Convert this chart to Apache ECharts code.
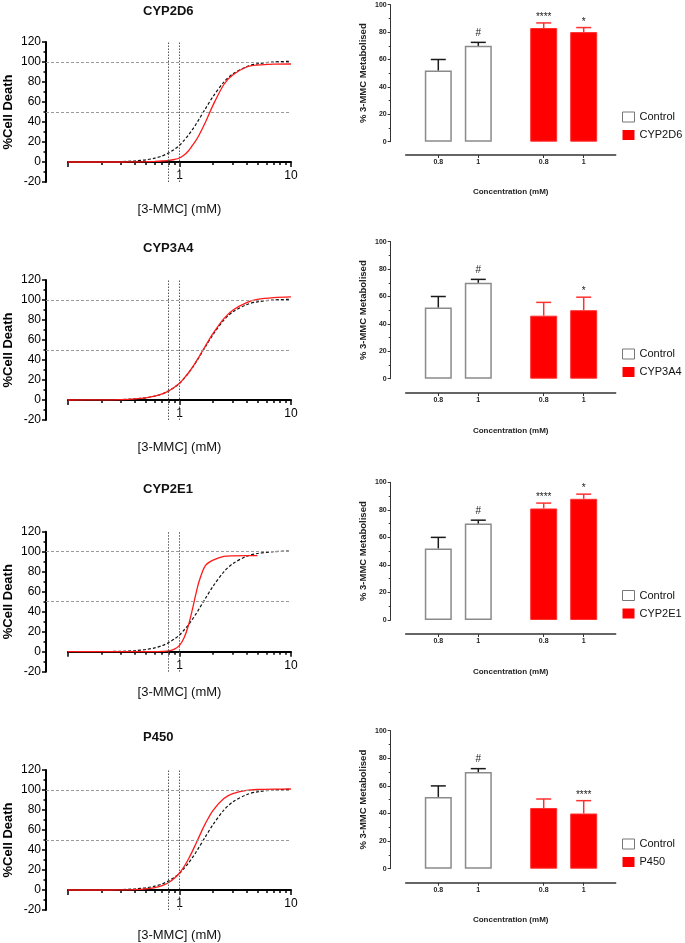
<!DOCTYPE html>
<html><head><meta charset="utf-8">
<script src="https://cdn.jsdelivr.net/npm/echarts@6/dist/echarts.min.js"></script>
<style>html,body{margin:0;padding:0;background:#fff}#c{width:685px;height:943px}</style>
</head><body><div id="c"></div>
<script>
// ---------------- DATA ----------------
const panelNames = ['CYP2D6', 'CYP3A4', 'CYP2E1', 'P450'];
const doseX = [0.1,0.2,0.3,0.4,0.5,0.6,0.7,0.8,0.9,1,1.1,1.2,1.3,1.4,1.5,1.7,2,2.5,3,4,5,7,10];
const controlCurve = [0,0.1,0.4,1.1,2.2,3.8,6.1,9.1,12.7,16.7,21.7,26.8,32.1,37.5,42.9,52.9,65.5,79.9,88.0,95.4,98.2,100.0,100.7];
const curveCYP2D6 = [0,0,0,0.1,0.3,0.6,1.0,1.5,2.5,4,7,11,16.3,21.3,27,39.2,56.9,77.5,87,95,96.9,97.8,98];
const curveCYP3A4 = [0,0.1,0.4,1.1,2.2,3.8,6.1,9.1,12.7,16.7,21.8,27,32.4,37.9,43.5,53.7,66.6,81.4,89.8,97.4,100.6,102.4,103.1];
const curveCYP2E1 = [0,0,0,0,0,0,0.3,0.9,2.6,6.4,13.9,25.9,41.5,57.3,70.4,85.9,91.5,95.4,95.9,96,96,null,null];
const curveP450 = [0,0,0.1,0.4,1.1,2.4,4.4,7.5,11.7,17,23.5,30.8,38.4,46.1,53.4,66.1,79.7,91.5,96.3,99.6,100.5,100.9,101];
const enzymeCurves = [curveCYP2D6, curveCYP3A4, curveCYP2E1, curveP450];
const refLevels = [50, 100];
const refDoses = [0.8, 1];
const xMinorTicks = [0.2,0.3,0.4,0.5,0.6,0.7,0.8,0.9,2,3,4,5,6,7,8,9];
const xMajorTicks = [0.1, 1, 10];
const xTickLabels = [1, 10];

const barCategories = ['0.8', '1'];
const controlMean = [52, 70];
const controlErr = [8, 2.5];
const controlMarks = ['', '#'];
const meanCYP2D6 = [83, 80];   const errCYP2D6 = [3.7, 3.3];  const marksCYP2D6 = ['****', '*'];
const meanCYP3A4 = [46, 50];   const errCYP3A4 = [9.7, 9.5];  const marksCYP3A4 = ['', '*'];
const meanCYP2E1 = [81, 88];   const errCYP2E1 = [3.9, 3.4];  const marksCYP2E1 = ['****', '*'];
const meanP450 = [44, 40];     const errP450 = [6.5, 9.3];    const marksP450 = ['', '****'];
const enzymeMeans = [meanCYP2D6, meanCYP3A4, meanCYP2E1, meanP450];
const enzymeErrs = [errCYP2D6, errCYP3A4, errCYP2E1, errP450];
const enzymeMarks = [marksCYP2D6, marksCYP3A4, marksCYP2E1, marksP450];

// ---------------- LAYOUT ----------------
const leftLayout = [
  {top: 42, titleTop: 4.5, nameGap: 40.5},
  {top: 280, titleTop: 241.5, nameGap: 40.5},
  {top: 531.7, titleTop: 482.5, nameGap: 34.5},
  {top: 770, titleTop: 731, nameGap: 38.5}
];
const rightLayout = [
  {top: 4.7, h: 137, off: 13.3, nameGap: 33, legTop: 111},
  {top: 241.7, h: 137, off: 14.3, nameGap: 33.5, legTop: 348},
  {top: 482.3, h: 137.7, off: 14, nameGap: 33.5, legTop: 589.5},
  {top: 730.7, h: 138, off: 14, nameGap: 33, legTop: 838}
];
const FONT = '"Liberation Sans", Arial, Helvetica, sans-serif';

const grid = [], xAxis = [], yAxis = [], series = [], title = [], legend = [];
function addGrid(g) { g.outerBoundsMode = 'none'; g.containLabel = false; grid.push(g); return grid.length - 1; }

function errRenderer(color, marks) {
  return function (params, api) {
    const x = api.value(0), v = api.value(1), e = api.value(2);
    const p0 = api.coord([x, v]);
    const p1 = api.coord([x, v + e]);
    const half = 7.5;
    const children = [
      {type: 'line', shape: {x1: p0[0], y1: p0[1], x2: p1[0], y2: p1[1]}, style: {stroke: color, lineWidth: 1.5}},
      {type: 'line', shape: {x1: p1[0] - half, y1: p1[1], x2: p1[0] + half, y2: p1[1]}, style: {stroke: color, lineWidth: 1.5}}
    ];
    const m = marks[params.dataIndex];
    if (m) {
      const star = m.indexOf('*') >= 0;
      children.push({type: 'text', x: p1[0], y: p1[1] + (star ? -0.5 : -4),
        style: {text: m, fill: '#222', font: '10px ' + FONT, align: 'center', verticalAlign: 'bottom'}});
    }
    return {type: 'group', children: children};
  };
}

for (let i = 0; i < 4; i++) {
  const L = leftLayout[i];
  const R = rightLayout[i];
  // ---- left: grid A (wide, visible y axis + horizontal reference lines)
  const gA = addGrid({left: 46, width: 245, top: L.top, height: 140});
  xAxis.push({gridIndex: gA, type: 'value', min: 0, max: 1, show: false});
  yAxis.push({gridIndex: gA, type: 'value', min: -20, max: 120, interval: 20,
    axisLine: {show: true, onZero: false, lineStyle: {color: '#000', width: 2}},
    axisTick: {show: true, length: 4, lineStyle: {color: '#000', width: 1.5}},
    minorTick: {show: true, splitNumber: 2, length: 2.5, lineStyle: {color: '#000', width: 1.5}},
    axisLabel: {fontSize: 12, color: '#000', margin: 5, fontFamily: FONT},
    splitLine: {show: false},
    name: '%Cell Death', nameLocation: 'middle', nameGap: 31,
    nameTextStyle: {fontSize: 13, fontWeight: 'bold', color: '#000', fontFamily: FONT}});
  series.push({type: 'line', xAxisIndex: xAxis.length - 1, yAxisIndex: yAxis.length - 1, data: [],
    markLine: {silent: true, symbol: 'none', label: {show: false},
      lineStyle: {type: [3, 2], color: '#9a9a9a', width: 1},
      data: refLevels.map(v => ({yAxis: v}))}});
  // ---- left: grid D (full height, vertical dotted reference lines)
  const gD = addGrid({left: 68, width: 223, top: L.top, height: 140});
  xAxis.push({gridIndex: gD, type: 'log', logBase: 10, min: 0.1, max: 10, show: false});
  yAxis.push({gridIndex: gD, type: 'value', min: -20, max: 120, show: false});
  series.push({type: 'line', xAxisIndex: xAxis.length - 1, yAxisIndex: yAxis.length - 1, data: [],
    markLine: {silent: true, symbol: 'none', label: {show: false},
      lineStyle: {type: [1.5, 1.5], color: '#555', width: 1},
      data: refDoses.map(v => ({xAxis: v}))}});
  // ---- left: grid B (0..120, log axis with curves; bottom edge is y = 0)
  const gB = addGrid({left: 68, width: 223, top: L.top, height: 120});
  xAxis.push({gridIndex: gB, type: 'log', logBase: 10, min: 0.1, max: 10,
    axisLine: {show: true, onZero: false, lineStyle: {color: '#000', width: 2}},
    axisTick: {show: true, customValues: xMinorTicks, length: 3, lineStyle: {color: '#000', width: 1.5}},
    minorTick: {show: false},
    axisLabel: {customValues: xTickLabels, fontSize: 12, color: '#000', margin: 7.5, fontFamily: FONT},
    splitLine: {show: false},
    name: '[3-MMC] (mM)', nameLocation: 'middle', nameGap: L.nameGap,
    nameTextStyle: {fontSize: 13, color: '#111', fontFamily: FONT}});
  yAxis.push({gridIndex: gB, type: 'value', min: 0, max: 120, show: false});
  const xb = xAxis.length - 1, yb = yAxis.length - 1;
  series.push({type: 'line', xAxisIndex: xb, yAxisIndex: yb, smooth: 0.3, showSymbol: false, z: 3, clip: false,
    data: doseX.map((x, j) => [x, controlCurve[j]]),
    lineStyle: {color: '#111', type: [3, 2], width: 1.2}});
  series.push({type: 'line', xAxisIndex: xb, yAxisIndex: yb, smooth: 0.3, showSymbol: false, z: 4, clip: false,
    data: doseX.map((x, j) => [x, enzymeCurves[i][j]]),
    lineStyle: {color: '#ff1a1a', width: 1.3}});
  // ---- left: grid C (same as B; longer major ticks)
  const gC = addGrid({left: 68, width: 223, top: L.top, height: 120});
  xAxis.push({gridIndex: gC, type: 'log', logBase: 10, min: 0.1, max: 10,
    axisLine: {show: false, onZero: false},
    axisTick: {show: true, customValues: xMajorTicks, length: 5, lineStyle: {color: '#000', width: 1.5}},
    axisLabel: {show: false}, splitLine: {show: false}, minorTick: {show: false}});
  yAxis.push({gridIndex: gC, type: 'value', min: 0, max: 120, show: false});
  title.push({text: panelNames[i], left: 143, top: L.titleTop, padding: 0,
    textStyle: {fontSize: 13, fontWeight: 'bold', color: '#111', fontFamily: FONT}});

  // ---- right: control bars
  const gRc = addGrid({left: 418.3, width: 80, top: R.top, height: R.h});
  xAxis.push({gridIndex: gRc, type: 'category', data: barCategories, offset: R.off,
    axisLine: {show: false, onZero: false},
    axisTick: {show: true, alignWithLabel: true, length: 3, lineStyle: {color: '#333', width: 1}},
    axisLabel: {fontSize: 7, fontWeight: 'bold', color: '#222', margin: 4, fontFamily: FONT}});
  yAxis.push({gridIndex: gRc, type: 'value', min: 0, max: 100, interval: 20, offset: 27.6,
    axisLine: {show: true, onZero: false, lineStyle: {color: '#333', width: 1}},
    axisTick: {show: true, length: 3, lineStyle: {color: '#333', width: 1}},
    minorTick: {show: true, splitNumber: 2, length: 2, lineStyle: {color: '#333', width: 1}},
    axisLabel: {fontSize: 7, fontWeight: 'bold', color: '#222', margin: 4, fontFamily: FONT},
    splitLine: {show: false},
    name: '% 3-MMC Metabolised', nameLocation: 'middle', nameGap: 22,
    nameTextStyle: {fontSize: 9.5, fontWeight: 'bold', color: '#222', fontFamily: FONT}});
  let xi = xAxis.length - 1, yi = yAxis.length - 1;
  series.push({type: 'bar', name: 'Control', xAxisIndex: xi, yAxisIndex: yi, data: controlMean, barWidth: 27,
    itemStyle: {color: '#fff', borderColor: '#8a8a8a', borderWidth: 1.5}});
  series.push({type: 'custom', xAxisIndex: xi, yAxisIndex: yi, z: 5,
    data: controlMean.map((v, j) => [j, v, controlErr[j]]),
    encode: {x: 0, y: 1}, renderItem: errRenderer('#1a1a1a', controlMarks)});
  // ---- right: enzyme bars
  const gRp = addGrid({left: 523.7, width: 80, top: R.top, height: R.h});
  xAxis.push({gridIndex: gRp, type: 'category', data: barCategories, offset: R.off,
    axisLine: {show: false, onZero: false},
    axisTick: {show: true, alignWithLabel: true, length: 3, lineStyle: {color: '#333', width: 1}},
    axisLabel: {fontSize: 7, fontWeight: 'bold', color: '#222', margin: 4, fontFamily: FONT}});
  yAxis.push({gridIndex: gRp, type: 'value', min: 0, max: 100, show: false});
  xi = xAxis.length - 1; yi = yAxis.length - 1;
  series.push({type: 'bar', name: panelNames[i], xAxisIndex: xi, yAxisIndex: yi, data: enzymeMeans[i], barWidth: 27,
    itemStyle: {color: '#ff0000', borderColor: '#ff3030', borderWidth: 1}});
  series.push({type: 'custom', xAxisIndex: xi, yAxisIndex: yi, z: 5,
    data: enzymeMeans[i].map((v, j) => [j, v, enzymeErrs[i][j]]),
    encode: {x: 0, y: 1}, renderItem: errRenderer('#ff3030', enzymeMarks[i])});
  // ---- right: long x axis line
  const gRl = addGrid({left: 405.7, width: 210, top: R.top, height: R.h});
  xAxis.push({gridIndex: gRl, type: 'value', min: 0, max: 1, offset: R.off,
    axisLine: {show: true, onZero: false, lineStyle: {color: '#333', width: 1.5}},
    axisTick: {show: false}, axisLabel: {show: false}, splitLine: {show: false},
    name: 'Concentration (mM)', nameLocation: 'middle', nameGap: R.nameGap,
    nameTextStyle: {fontSize: 8, fontWeight: 'bold', color: '#222', fontFamily: FONT}});
  yAxis.push({gridIndex: gRl, type: 'value', min: 0, max: 100, show: false});

  legend.push({orient: 'vertical', left: 622, top: R.legTop, padding: 0,
    itemWidth: 12, itemHeight: 10, itemGap: 6, icon: 'rect', selectedMode: false,
    textStyle: {fontSize: 11, color: '#111', lineHeight: 12, fontFamily: FONT},
    data: [{name: 'Control', itemStyle: {color: '#fff', borderColor: '#777', borderWidth: 1}},
           {name: panelNames[i], itemStyle: {color: '#ff0000', borderWidth: 0}}]});
}

const chart = echarts.init(document.getElementById('c'), null, {renderer: 'canvas'});
chart.setOption({
  animation: false,
  backgroundColor: '#fff',
  textStyle: {fontFamily: FONT},
  title: title, legend: legend, grid: grid, xAxis: xAxis, yAxis: yAxis, series: series
});
</script>
</body></html>
